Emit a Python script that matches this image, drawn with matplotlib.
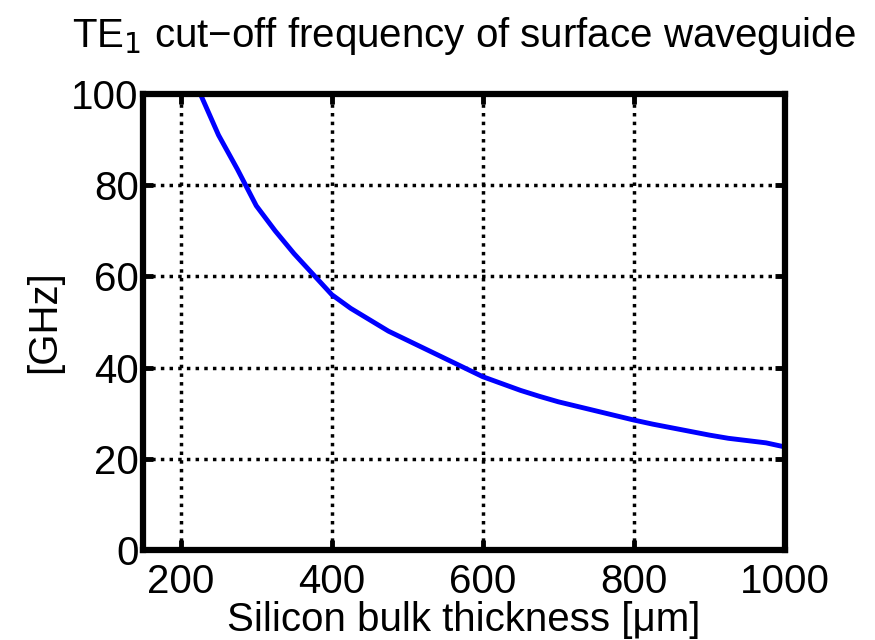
import numpy as np
import matplotlib
matplotlib.use('Agg')
import matplotlib.pyplot as plt

# values
thickness = [226, 250, 275, 300, 325, 350, 375, 400, 425, 450, 475, 500, 525, 550,
             575, 600, 625, 650, 675, 700, 725, 750, 775, 800, 825, 850, 875, 900,
             925, 950, 975, 1000]
cutoff = [100, 91, 83.5, 75.5, 70, 65, 60.5, 56, 53, 50.5, 48, 46, 44, 42,
          40, 38, 36.5, 35, 33.7, 32.5, 31.5, 30.5, 29.5, 28.5, 27.6, 26.8, 26, 25.2,
          24.5, 24, 23.5, 22.6]
xticks = [200, 400, 600, 800, 1000]
yticks = [0, 20, 40, 60, 80, 100]

plt.rcParams['font.family'] = ['Liberation Sans', 'DejaVu Sans']

fig = plt.figure(figsize=(8.75, 6.4), dpi=100)
ax = fig.add_axes([0.1634, 0.1406, 0.7337, 0.7125])
ax.plot(thickness, cutoff, color='#0000ff', lw=3.5)
ax.set_xlim(150, 1000)
ax.set_ylim(0, 100)
ax.set_xticks(xticks)
ax.set_yticks(yticks)
ax.grid(True, color='black', linestyle=(0, (1, 1.5)), lw=2.5)
for s in ax.spines.values():
    s.set_linewidth(4.5)
ax.tick_params(direction='in', length=7, width=3.5, top=True, right=True,
               labelsize=29, pad=3)
ax.tick_params(axis='x', pad=9)
ax.set_xlabel('Silicon bulk thickness [\u03bcm]', fontsize=29, labelpad=0)
ax.set_ylabel('[GHz]', fontsize=29, labelpad=6)
ax.set_title('TE$_1$ cut\u2212off frequency of surface waveguide', fontsize=29, pad=34)
fig.savefig('out.png', dpi=100)
